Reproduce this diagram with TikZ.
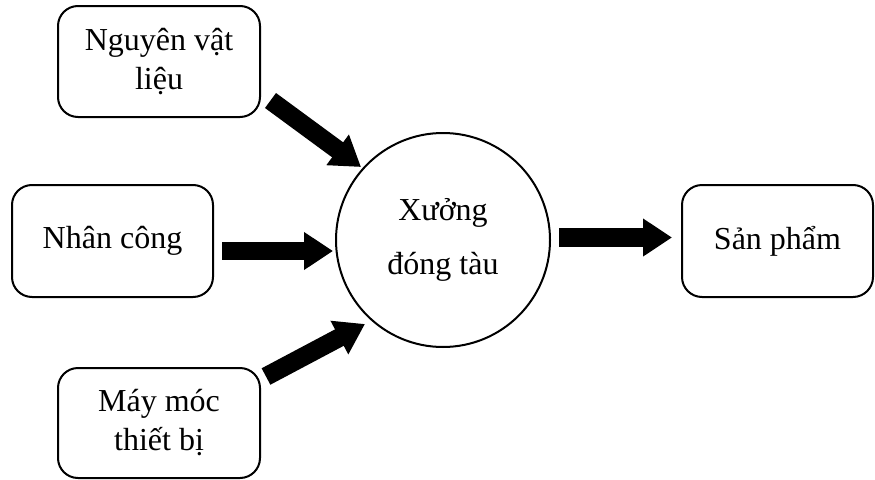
\documentclass[tikz,border=0pt]{standalone}
\usepackage{fontspec}
\setmainfont{Liberation Serif}
\usetikzlibrary{arrows.meta}

\begin{document}
\begin{tikzpicture}[x=1pt, y=-1pt,
  every node/.style={font=\fontsize{32}{39}\selectfont, align=center},
  inbox/.style={draw, line width=2pt, rounded corners=20pt, inner sep=0pt},
  plant/.style={draw, line width=2pt, circle, inner sep=0pt, minimum size=214pt,
    font=\fontsize{32}{54}\selectfont},
  flow/.style={line width=18.6pt, line cap=butt,
    -{Triangle[length=29pt, width=36pt]}}]
  \useasboundingbox (0,0) rectangle (875,479);

  % inputs, workshop and output
  \node[inbox, minimum width=202pt, minimum height=111pt] (nvl) at (159,61.5) {Nguyên vật\\liệu};
  \node[inbox, minimum width=201pt, minimum height=112pt] (nc) at (112.5,241) {Nhân công};
  \node[inbox, minimum width=202pt, minimum height=110pt] (mm) at (159,423) {Máy móc\\thiết bị};
  \node[plant] (xuong) at (443,240) {Xưởng\\đóng tàu};
  \node[inbox, minimum width=191pt, minimum height=112pt] (sp) at (777.5,241) {Sản phẩm};

  % arrow ends
  \coordinate (nvlOut) at (270.5,100.5);
  \coordinate (nvlIn) at (361,167);
  \coordinate (ncOut) at (222,251);
  \coordinate (ncIn) at (333,251);
  \coordinate (mmOut) at (266,376.5);
  \coordinate (mmIn) at (365,324);
  \coordinate (xOut) at (559,237.5);
  \coordinate (spIn) at (672,237.5);

  % flows
  \draw[flow] (nvlOut) -- (nvlIn);
  \draw[flow] (ncOut) -- (ncIn);
  \draw[flow] (mmOut) -- (mmIn);
  \draw[flow] (xOut) -- (spIn);
\end{tikzpicture}
\end{document}
